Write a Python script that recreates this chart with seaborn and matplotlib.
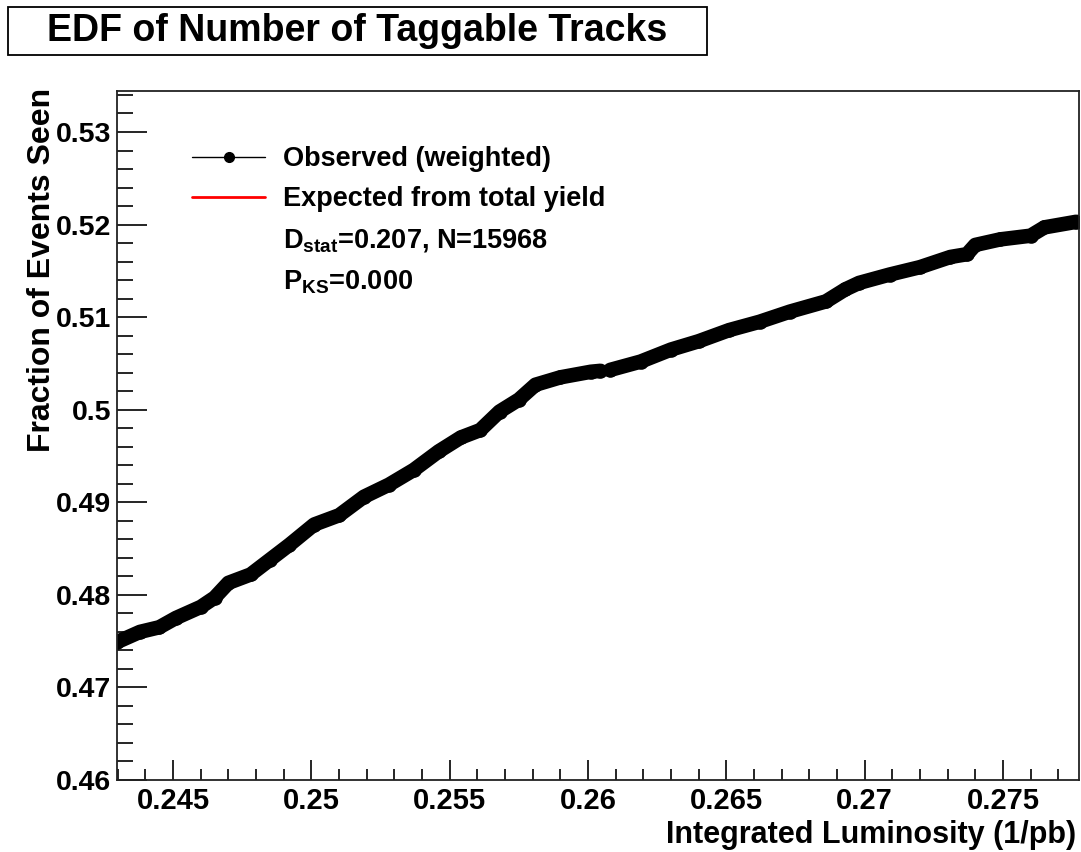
import matplotlib
matplotlib.use("Agg")
import matplotlib.pyplot as plt
from matplotlib.lines import Line2D
from matplotlib.patches import Rectangle
import numpy as np
import pandas as pd
import seaborn as sns

# ---- data ----
lumi_seg1 = [0.24297, 0.2438, 0.2445, 0.2451, 0.2460, 0.2465, 0.2470, 0.2478,
             0.2485, 0.2492, 0.2501, 0.2510, 0.2519, 0.2528, 0.2537, 0.2546,
             0.2554, 0.2561, 0.2568, 0.2575, 0.2581, 0.2590, 0.2601, 0.26045]
frac_seg1 = [0.4749, 0.4760, 0.4765, 0.4775, 0.4787, 0.4797, 0.4813, 0.4822,
             0.4838, 0.4854, 0.4876, 0.4886, 0.4906, 0.4919, 0.4935, 0.4955,
             0.4970, 0.4978, 0.4998, 0.5011, 0.5027, 0.5035, 0.5041, 0.5042]
lumi_seg2 = [0.2608, 0.2619, 0.2630, 0.2640, 0.2651, 0.2662, 0.2673, 0.2686,
             0.2693, 0.2698, 0.2709, 0.2720, 0.2731, 0.2737, 0.2740, 0.2749,
             0.2760, 0.2765, 0.27765]
frac_seg2 = [0.5043, 0.5052, 0.5065, 0.5074, 0.5086, 0.5095, 0.5106, 0.5117,
             0.5130, 0.5137, 0.5146, 0.5154, 0.5165, 0.5168, 0.5178, 0.5184,
             0.5188, 0.5197, 0.5203]

title = "EDF of Number of Taggable Tracks"
xlabel = "Integrated Luminosity (1/pb)"
ylabel = "Fraction of Events Seen"
xtick_vals = [0.245, 0.25, 0.255, 0.26, 0.265, 0.27, 0.275]
xtick_labels = ["0.245", "0.25", "0.255", "0.26", "0.265", "0.27", "0.275"]
ytick_vals = [0.46, 0.47, 0.48, 0.49, 0.5, 0.51, 0.52, 0.53]
ytick_labels = ["0.46", "0.47", "0.48", "0.49", "0.5", "0.51", "0.52", "0.53"]
legend_labels = ["Observed (weighted)", "Expected from total yield",
                 r"D$_{\mathrm{stat}}$=0.207, N=15968", r"P$_{\mathrm{KS}}$=0.000"]

df = pd.DataFrame({
    "lumi": lumi_seg1 + lumi_seg2,
    "frac": frac_seg1 + frac_seg2,
    "seg": [1] * len(lumi_seg1) + [2] * len(lumi_seg2),
})

sns.set_theme(style="white")
plt.rcParams["font.family"] = ["Liberation Sans", "DejaVu Sans"]
plt.rcParams["font.weight"] = "bold"
plt.rcParams["text.color"] = "black"
plt.rcParams["axes.labelcolor"] = "black"
plt.rcParams["xtick.color"] = "black"
plt.rcParams["ytick.color"] = "black"
plt.rcParams["mathtext.fontset"] = "custom"
plt.rcParams["mathtext.rm"] = "Liberation Sans:bold"
plt.rcParams["mathtext.it"] = "Liberation Sans:bold"
plt.rcParams["mathtext.bf"] = "Liberation Sans:bold"

W, H = 1081, 852
fig = plt.figure(figsize=(W / 100, H / 100), dpi=100)
L, R, T, B = 117, 1079, 91, 780
ax = fig.add_axes([L / W, 1 - B / H, (R - L) / W, (B - T) / H])

sns.lineplot(data=df, x="lumi", y="frac", units="seg", estimator=None,
             color="black", linewidth=10.5, marker="o", markersize=10.5,
             markeredgewidth=0, solid_capstyle="round", ax=ax, legend=False)

ax.set_xlim(0.24297, 0.27775)
ax.set_ylim(0.46, 0.53443)
ax.set_xticks(xtick_vals)
ax.set_xticklabels(xtick_labels)
ax.set_yticks(ytick_vals)
ax.set_yticklabels(ytick_labels)
ax.set_xticks(np.arange(0.243, 0.2778, 0.001), minor=True)
ax.set_yticks(np.arange(0.46, 0.5345, 0.002), minor=True)

ax.tick_params(which="both", top=False, right=False, bottom=True, left=True)
ax.tick_params(axis="x", which="major", direction="in", length=14.5, width=1.2,
               labelsize=21, pad=5, color="black", labelcolor="black")
ax.tick_params(axis="x", which="minor", direction="in", length=8, width=1.2,
               color="black")
ax.tick_params(axis="y", which="major", direction="in", length=21.5, width=1.2,
               labelsize=20.5, pad=4, color="black", labelcolor="black")
ax.tick_params(axis="y", which="minor", direction="in", length=11.5, width=1.2,
               color="black")
for lbl in ax.get_xticklabels() + ax.get_yticklabels():
    lbl.set_fontweight("bold")

for s in ax.spines.values():
    s.set_color("#222222")
    s.set_linewidth(1.3)

ax.set_xlabel(xlabel, fontsize=22, fontweight="bold", loc="right")
ax.set_ylabel(ylabel, fontsize=23, fontweight="bold", loc="top")
ax.xaxis.set_label_coords((1076 - L) / (R - L), -(820 - B) / (B - T))
ax.yaxis.set_label_coords(-(L - 57) / (R - L), 1.004)

handles = [
    Line2D([], [], color="black", linewidth=1, marker="o", markersize=7),
    Line2D([], [], color="red", linewidth=2),
    Line2D([], [], linestyle="none"),
    Line2D([], [], linestyle="none"),
]
leg = ax.legend(handles, legend_labels, loc="upper left",
                bbox_to_anchor=((192 - L) / (R - L), 1 - (146 - T) / (B - T)),
                frameon=False, fontsize=19.5, handlelength=2.7, handletextpad=0.66,
                labelspacing=0.53, borderaxespad=0, borderpad=0)
for t in leg.get_texts():
    t.set_fontweight("bold")
    t.set_color("black")

# title box
fig.patches.append(Rectangle((8 / W, 1 - 55 / H), (707 - 8) / W, (55 - 7) / H,
                             transform=fig.transFigure, fill=False,
                             edgecolor="black", linewidth=1.3))
fig.text((8 + 707) / 2 / W, 1 - 31 / H, title, ha="center", va="center",
         fontsize=27, fontweight="bold", color="black")

fig.savefig("out.png", dpi=100, facecolor="white")
